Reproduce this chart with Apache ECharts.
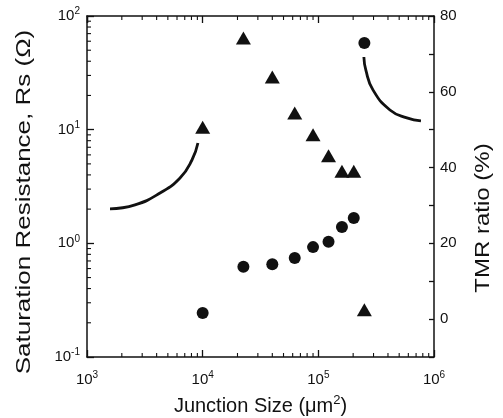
<!DOCTYPE html>
<html>
<head>
<meta charset="utf-8">
<script src="https://cdn.jsdelivr.net/npm/echarts@6/dist/echarts.min.js"></script>
<style>
  html, body { margin: 0; padding: 0; background: #fff; }
  #chart { width: 503px; height: 418px; }
</style>
</head>
<body>
<div id="chart"></div>
<script>
// junction area (µm²): 100..500 µm squares
const junctionSize = [10000, 22500, 40000, 62500, 90000, 122500, 160000, 202500, 250000];
// saturation resistance Rs (Ω), left log axis
const rsValues = [10.5, 64, 29, 14, 9.0, 5.9, 4.3, 4.3, 0.26];
// TMR ratio (%), right axis
const tmrValues = [1.6, 13.8, 14.5, 16.1, 19.0, 20.4, 24.3, 26.7, 72.9];

// annotation arrows, in data coordinates
const arrowRsX = [1580, 2600, 4280, 6370, 8080, 9100];
const arrowRsY = [2.01, 2.18, 2.77, 3.76, 5.41, 7.64];
const arrowTmrX = [247600, 257600, 296600, 416000, 583000, 771000];
const arrowTmrY = [69.2, 65.7, 60.5, 55.2, 53.1, 52.3];

const tmrTicks = [0, 20, 40, 60, 80];
const xDecades = [1000, 10000, 100000];
const yDecades = [0.1, 1, 10];
const minorSteps = [2, 3, 4, 5, 6, 7, 8, 9];

const FONT = '"Liberation Sans", Arial, sans-serif';
const INK = "#111";

const zip = (a, b) => a.map((v, i) => [v, b[i]]);
const powLabel = (v) => "10{sup|" + Math.round(Math.log10(v)) + "}";
const richSup = {
  sup: { fontSize: 10, verticalAlign: "top", padding: [0, 0, 9, 0], color: INK, fontFamily: FONT },
};

// log minor ticks (2..9 per decade)
const minorX = xDecades.flatMap((d) => minorSteps.map((m) => d * m));
const minorY = yDecades.flatMap((d) => minorSteps.map((m) => d * m));

const chart = echarts.init(document.getElementById("chart"), null, { renderer: "canvas" });

const axisLine = { show: true, onZero: false, lineStyle: { color: INK, width: 1.5 } };
const tick = { show: true, inside: true, length: 7, lineStyle: { color: INK, width: 1.3 } };

const tickLine = (x1, y1, x2, y2) => ({
  type: "line",
  shape: { x1, y1, x2, y2 },
  style: { stroke: INK, lineWidth: 1.1 },
});

chart.setOption({
  animation: false,
  textStyle: { fontFamily: FONT, color: INK },
  grid: { left: 87, right: 69, top: 16, bottom: 61, outerBoundsMode: "none", containLabel: false },
  xAxis: [
    {
      type: "log", min: 1000, max: 1000000, position: "bottom",
      axisLine, axisTick: tick, splitLine: { show: false },
      axisLabel: { formatter: powLabel, fontSize: 15, color: INK, margin: 13, rich: richSup },
      name: "Junction Size (μm{sup|2})",
      nameLocation: "middle", nameGap: 37,
      nameTextStyle: { fontSize: 20, color: INK, rich: { sup: { fontSize: 13, verticalAlign: "top", padding: [0, 0, 11, 0] } } },
    },
    {
      type: "log", min: 1000, max: 1000000, position: "top",
      axisLine, axisTick: tick, splitLine: { show: false },
      axisLabel: { show: false },
    },
  ],
  yAxis: [
    {
      type: "log", min: 0.1, max: 100, position: "left",
      axisLine, axisTick: tick, splitLine: { show: false },
      axisLabel: { formatter: powLabel, fontSize: 15, color: INK, margin: 7, rich: richSup },
    },
    {
      type: "value", min: -10, max: 80, interval: 10, position: "right",
      axisLine, axisTick: { show: true, inside: true, length: 5, lineStyle: { color: INK, width: 1.3 } },
      splitLine: { show: false },
      axisLabel: {
        fontSize: 15, color: INK, margin: 6,
        formatter: (v) => (tmrTicks.includes(v) ? String(v) : ""),
      },
    },
  ],
  graphic: [
    {
      type: "text", x: 24, y: 202, rotation: Math.PI / 2, scaleX: 1.3,
      style: { text: "Saturation Resistance, Rs (Ω)", fontSize: 20, fontFamily: FONT, fill: INK, align: "center", verticalAlign: "middle" },
    },
    {
      type: "text", x: 483, y: 218, rotation: Math.PI / 2, scaleX: 1.2,
      style: { text: "TMR ratio (%)", fontSize: 20, fontFamily: FONT, fill: INK, align: "center", verticalAlign: "middle" },
    },
  ],
  series: [
    {
      type: "custom", coordinateSystem: "cartesian2d", silent: true, clip: false, xAxisIndex: 0, yAxisIndex: 0,
      data: minorX.map((v) => [v, 0.1]),
      renderItem: (params, api) => {
        const b = api.coord([api.value(0), 0.1]);
        const t = api.coord([api.value(0), 100]);
        return { type: "group", children: [tickLine(b[0], b[1], b[0], b[1] - 4), tickLine(t[0], t[1], t[0], t[1] + 4)] };
      },
    },
    {
      type: "custom", coordinateSystem: "cartesian2d", silent: true, clip: false, xAxisIndex: 0, yAxisIndex: 0,
      data: minorY.map((v) => [1000, v]),
      renderItem: (params, api) => {
        const p = api.coord([1000, api.value(1)]);
        return tickLine(p[0], p[1], p[0] + 4, p[1]);
      },
    },
    {
      type: "scatter", yAxisIndex: 0, symbol: "triangle", symbolSize: [15, 13],
      itemStyle: { color: INK, opacity: 1 }, data: zip(junctionSize, rsValues),
    },
    {
      type: "scatter", yAxisIndex: 1, symbol: "circle", symbolSize: 12,
      itemStyle: { color: INK, opacity: 1 }, data: zip(junctionSize, tmrValues),
    },
    {
      type: "line", yAxisIndex: 0, smooth: 0.5, showSymbol: false, silent: true,
      lineStyle: { color: INK, width: 2.8 }, data: zip(arrowRsX, arrowRsY),
    },
    {
      type: "line", yAxisIndex: 1, smooth: 0.5, showSymbol: false, silent: true,
      lineStyle: { color: INK, width: 2.8 }, data: zip(arrowTmrX, arrowTmrY),
    },
  ],
});
</script>
</body>
</html>
